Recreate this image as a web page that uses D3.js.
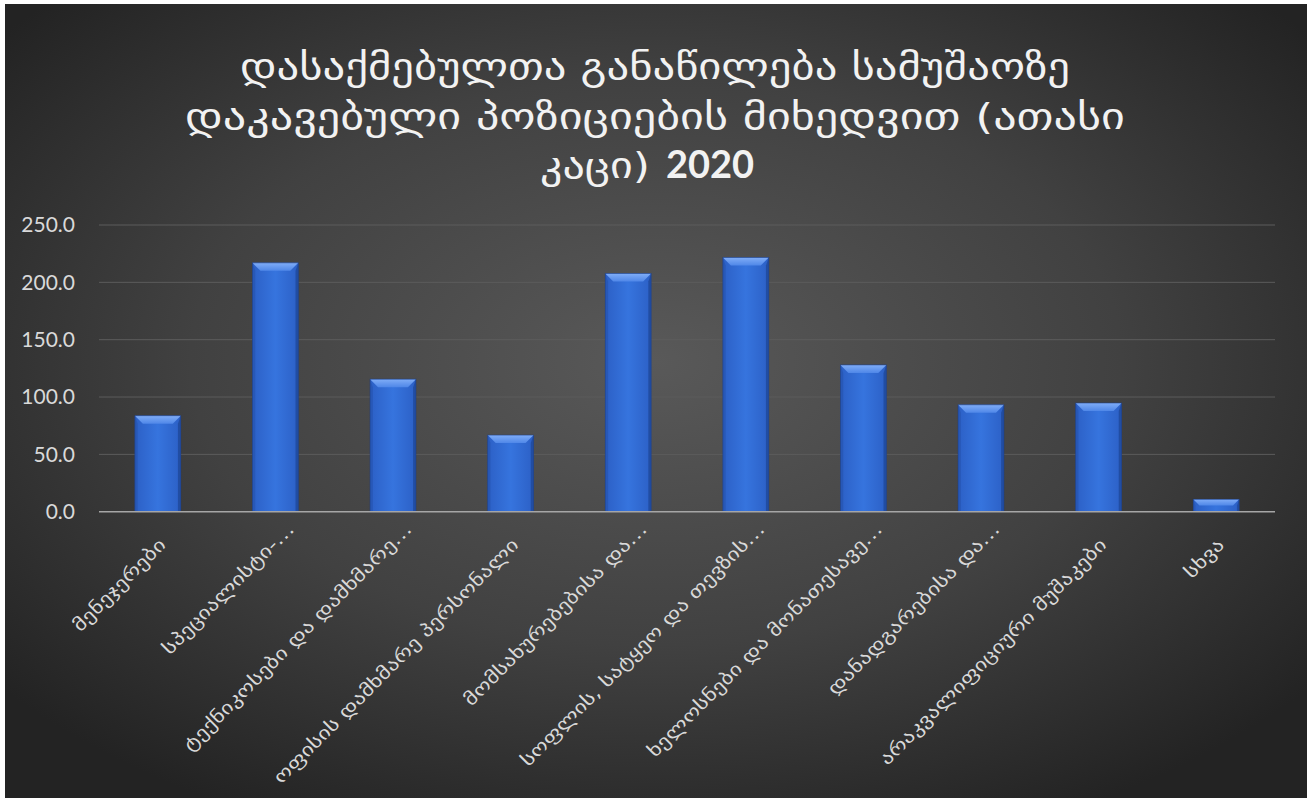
<!DOCTYPE html>
<html>
<head>
<meta charset="utf-8">
<script src="https://cdn.jsdelivr.net/npm/d3@7/dist/d3.min.js"></script>
<style>
  html, body { margin: 0; padding: 0; background: #ffffff; }
  svg { display: block; }
</style>
</head>
<body>
<svg id="chart" width="1307" height="798"></svg>
<script>
// Employed persons by occupation held (thousand persons), 2020
const categories = [
  "მენეჯერები",
  "სპეციალისტი-…",
  "ტექნიკოსები და დამხმარე…",
  "ოფისის დამხმარე პერსონალი",
  "მომსახურებებისა და…",
  "სოფლის, სატყეო და თევზის…",
  "ხელოსნები და მონათესავე…",
  "დანადგარებისა და…",
  "არაკვალიფიციური მუშაკები",
  "სხვა"
];
const values = [83.7, 217.0, 115.6, 66.8, 207.7, 221.6, 128.0, 93.2, 94.8, 10.8];
const yTicks = [0, 50, 100, 150, 200, 250];
const titleLines = [
  "დასაქმებულთა განაწილება სამუშაოზე",
  "დაკავებული პოზიციების მიხედვით  (ათასი"
];
const titleLast = "კაცი)";
const titleYear = "2020";

const W = 1307, H = 798;
const svg = d3.select("#chart");
const defs = svg.append("defs");

// Background: dark radial glow
const bg = defs.append("radialGradient").attr("id", "bgGrad")
  .attr("cx", "50%").attr("cy", "45%").attr("r", "65%");
bg.append("stop").attr("offset", "0%").attr("stop-color", "#595959");
bg.append("stop").attr("offset", "55%").attr("stop-color", "#414141");
bg.append("stop").attr("offset", "100%").attr("stop-color", "#232323");

svg.append("rect").attr("x", 5).attr("y", 4).attr("width", W - 5).attr("height", H - 4)
  .attr("fill", "url(#bgGrad)");

// Bar body gradient (slight roundness across the width)
const bodyGrad = defs.append("linearGradient").attr("id", "barBody")
  .attr("x1", "0%").attr("x2", "100%").attr("y1", "0%").attr("y2", "0%");
bodyGrad.append("stop").attr("offset", "0%").attr("stop-color", "#2c60c6");
bodyGrad.append("stop").attr("offset", "50%").attr("stop-color", "#3674de");
bodyGrad.append("stop").attr("offset", "100%").attr("stop-color", "#2c60c6");

const topGrad = defs.append("linearGradient").attr("id", "barTop")
  .attr("x1", "0%").attr("x2", "0%").attr("y1", "0%").attr("y2", "100%");
topGrad.append("stop").attr("offset", "0%").attr("stop-color", "#80adf7");
topGrad.append("stop").attr("offset", "100%").attr("stop-color", "#4f87e8");

const margin = { left: 99, right: 1275, top: 225, bottom: 511.7 };

const x = d3.scaleBand().domain(categories)
  .range([margin.left, margin.right])
  .paddingInner(0.61).paddingOuter(0.305);
const y = d3.scaleLinear().domain([0, 250]).range([margin.bottom, margin.top]);

// Gridlines
svg.append("g").selectAll("line").data(yTicks.filter(d => d > 0)).join("line")
  .attr("x1", margin.left).attr("x2", margin.right)
  .attr("y1", d => y(d)).attr("y2", d => y(d))
  .attr("stroke", "#5c5c5c").attr("stroke-width", 1);

// Y axis labels
const yAxis = d3.axisLeft(y).tickValues(yTicks).tickFormat(d3.format(".1f")).tickSize(0).tickPadding(24);
const yg = svg.append("g").attr("transform", `translate(${margin.left},0)`).call(yAxis);
yg.select(".domain").remove();
yg.selectAll("text")
  .attr("fill", "#d9d9d9")
  .style("font-family", "Lato, 'Open Sans', sans-serif")
  .style("font-size", "21px");

// Bars with bevelled edges
const bev = 8;
const bars = svg.append("g").selectAll("g").data(values).join("g")
  .attr("transform", (d, i) => `translate(${x(categories[i])},${y(d)})`);

bars.each(function (d) {
  const g = d3.select(this);
  const w = x.bandwidth();
  const h = y(0) - y(d);
  const b = Math.min(bev, h / 2);
  g.append("rect").attr("width", w).attr("height", h).attr("fill", "url(#barBody)");
  // top bevel
  g.append("path").attr("d", `M0,0 L${w},0 L${w - b},${b} L${b},${b} Z`).attr("fill", "url(#barTop)");
  // left edge
  g.append("path").attr("d", `M0,0 L${b * 0.35},${b} L${b * 0.35},${h} L0,${h} Z`).attr("fill", "#2756b3").attr("opacity", 0.8);
  // right edge
  g.append("path").attr("d", `M${w},0 L${w - b * 0.35},${b} L${w - b * 0.35},${h} L${w},${h} Z`).attr("fill", "#204a9c").attr("opacity", 0.85);
  g.append("rect").attr("width", w).attr("height", h).attr("fill", "none")
    .attr("stroke", "#1e3f86").attr("stroke-width", 0.8).attr("opacity", 0.7);
});

// X axis line
svg.append("line")
  .attr("x1", margin.left).attr("x2", margin.right)
  .attr("y1", y(0)).attr("y2", y(0))
  .attr("stroke", "#a6a6a6").attr("stroke-width", 1.5);

// Category labels, rotated and widened
const catLabels = svg.append("g").selectAll("text").data(categories).join("text")
  .attr("transform", d => {
    const cx = x(d) + x.bandwidth() / 2;
    const cut = d.endsWith("…");
    const ax = cx + (cut ? 20 : 9);
    const ay = cut ? 530 : 546;
    return `translate(${ax},${ay}) rotate(-45)`;
  })
  .attr("text-anchor", "end")
  .attr("fill", "#d9d9d9")
  .style("font-family", "'DejaVu Sans', sans-serif")
  .style("font-size", "18px")
  .text(d => d);
catLabels.each(function () {
  const len = this.getComputedTextLength();
  d3.select(this).attr("textLength", len * 1.27).attr("lengthAdjust", "spacingAndGlyphs");
});

// Title
const title = svg.append("g").attr("fill", "#f2f2f2")
  .style("font-family", "'DejaVu Sans', sans-serif")
  .style("white-space", "pre");
const titleBase = [79, 129];
const titleWidth = [830, 940];
titleLines.forEach((t, i) => {
  title.append("text").attr("x", 655).attr("y", titleBase[i])
    .attr("text-anchor", "middle").style("font-size", "36px")
    .attr("textLength", titleWidth[i]).attr("lengthAdjust", "spacingAndGlyphs")
    .text(t);
});
title.append("text").attr("x", 540).attr("y", 178)
  .style("font-size", "36px")
  .attr("textLength", 110).attr("lengthAdjust", "spacingAndGlyphs")
  .text(titleLast);
title.append("text").attr("x", 666).attr("y", 178)
  .style("font-family", "Lato, 'Open Sans', sans-serif")
  .style("font-weight", "bold").style("font-size", "38px").text(titleYear);
</script>
</body>
</html>
